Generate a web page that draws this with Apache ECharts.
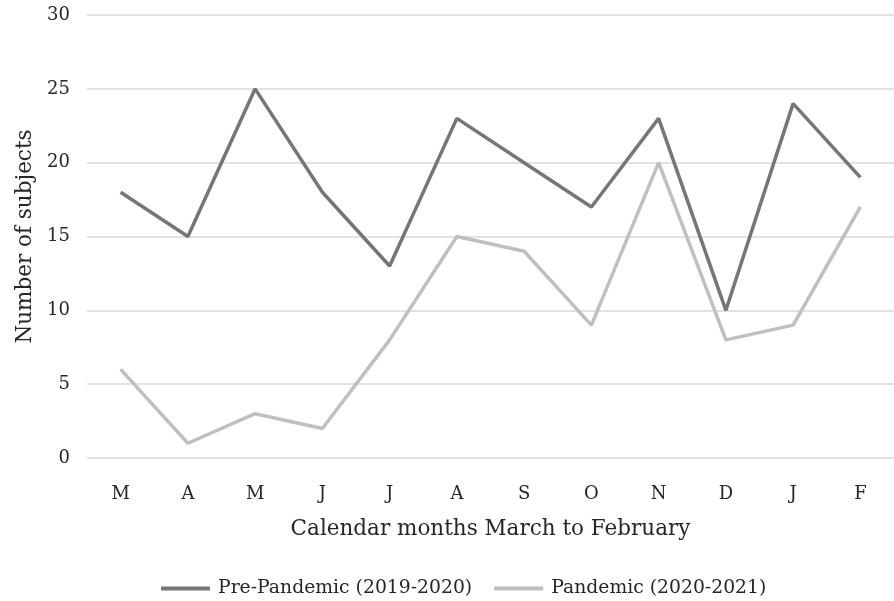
<!DOCTYPE html>
<html><head><meta charset="utf-8">
<script src="https://cdn.jsdelivr.net/npm/echarts@6/dist/echarts.min.js"></script>
<style>html,body{margin:0;padding:0;background:#fff}#c{width:894px;height:601px}</style>
</head><body><div id="c"></div>
<script>
const months = ['M','A','M','J','J','A','S','O','N','D','J','F'];
const prePandemic = [18,15,25,18,13,23,20,17,23,10,24,19];
const pandemic = [6,1,3,2,8,15,14,9,20,8,9,17];
const seriesNames = ['Pre-Pandemic (2019-2020)','Pandemic (2020-2021)'];
const FONT = 'DejaVu Serif';
const chart = echarts.init(document.getElementById('c'));
chart.setOption({
  animation:false,
  textStyle:{fontFamily:FONT},
  grid:{left:87,top:15,width:814,height:443},
  legend:{top:579,left:161,icon:'rect',itemWidth:49,itemHeight:4,itemGap:22,padding:0,
    textStyle:{fontFamily:FONT,fontSize:18.8,color:'#262626',padding:[0,0,0,3]},data:seriesNames},
  xAxis:{type:'category',data:months,boundaryGap:true,
    axisLine:{show:false},axisTick:{show:false},
    axisLabel:{fontFamily:FONT,fontSize:18,color:'#262626',margin:27},
    name:'Calendar months March to February',nameLocation:'middle',nameGap:60,
    nameTextStyle:{fontFamily:FONT,fontSize:21.5,color:'#262626'}},
  yAxis:{type:'value',min:0,max:30,interval:5,
    axisLine:{show:false},axisTick:{show:false},
    axisLabel:{fontFamily:FONT,fontSize:18,color:'#262626',margin:17},
    splitLine:{lineStyle:{color:'#d9d9d9',width:1.5}},
    name:'Number of subjects',nameLocation:'middle',nameGap:50,
    nameTextStyle:{fontFamily:FONT,fontSize:21.5,color:'#262626'}},
  series:[
    {name:seriesNames[0],type:'line',data:prePandemic,symbol:'none',
      lineStyle:{color:'#767678',width:3.5},itemStyle:{color:'#767678'}},
    {name:seriesNames[1],type:'line',data:pandemic,symbol:'none',
      lineStyle:{color:'#bfbfc1',width:3.5},itemStyle:{color:'#bfbfc1'}}
  ]
});
</script></body></html>
